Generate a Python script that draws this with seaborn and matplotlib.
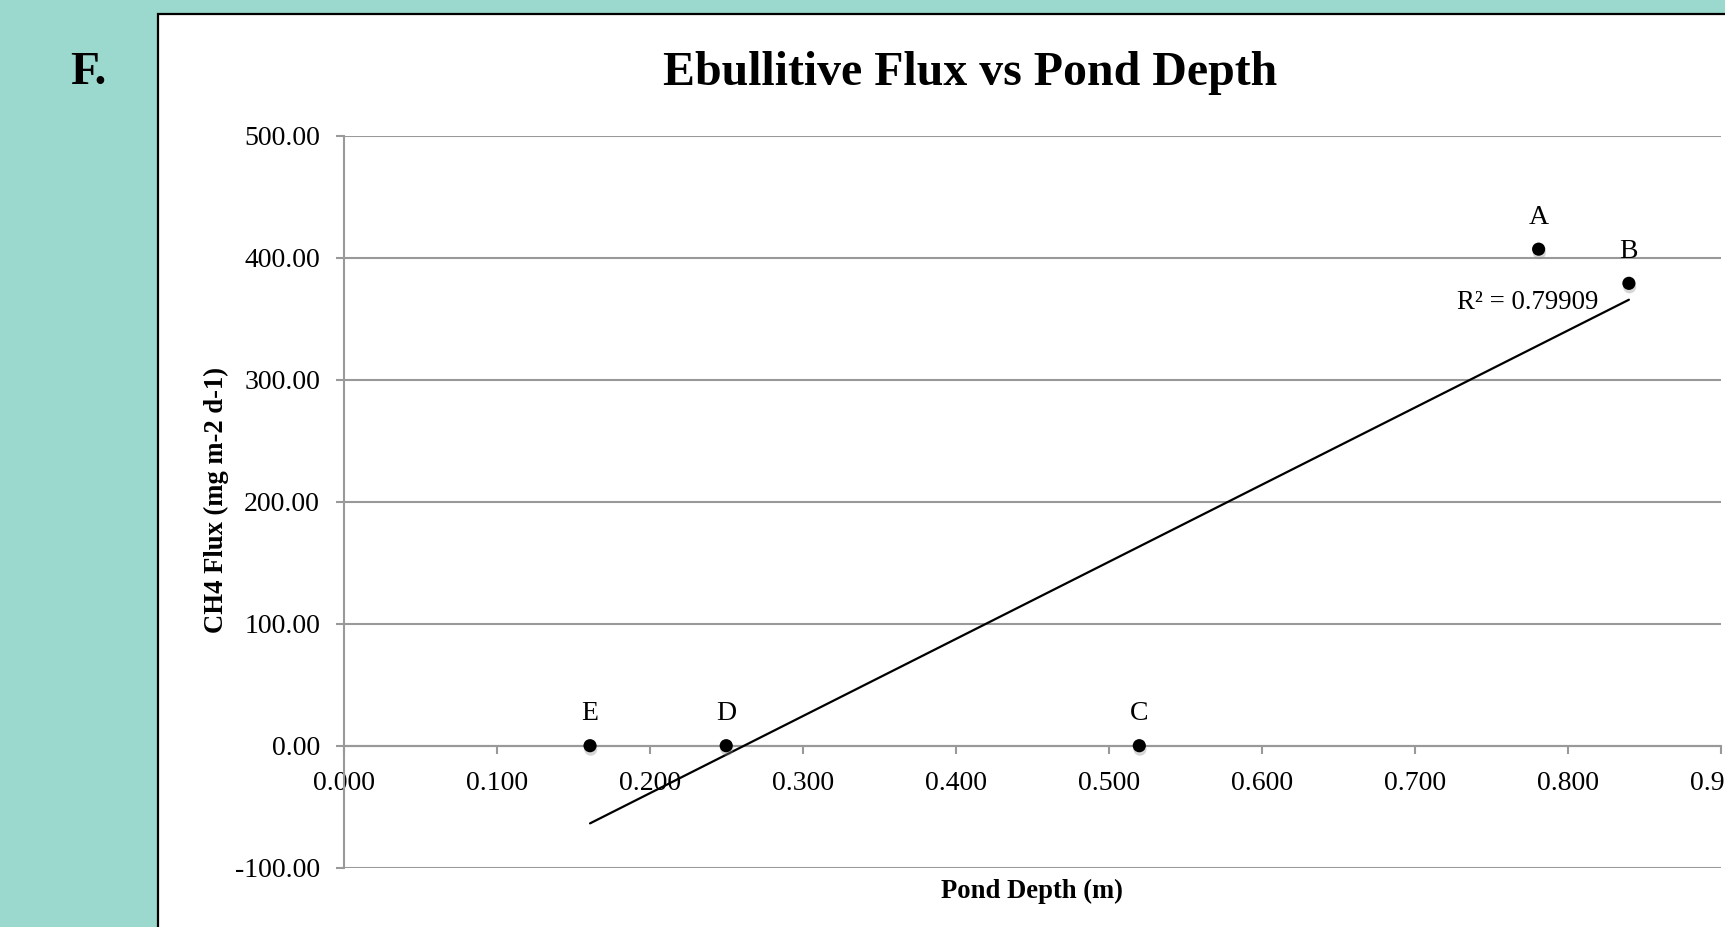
import numpy as np
import pandas as pd
import matplotlib
matplotlib.use("Agg")
import matplotlib.pyplot as plt
import matplotlib.patheffects as pe
from matplotlib.patches import Rectangle
import seaborn as sns

# ---- data ----
sites = ["A", "B", "C", "D", "E"]
depth_m = [0.781, 0.840, 0.520, 0.250, 0.161]
ch4_flux = [407.0, 379.0, 0.0, 0.0, 0.0]
r2_label = "R² = 0.79909"
x_ticks = [0.0, 0.1, 0.2, 0.3, 0.4, 0.5, 0.6, 0.7, 0.8, 0.9]
y_ticks = [-100, 0, 100, 200, 300, 400, 500]
title = "Ebullitive Flux vs Pond Depth"
panel_label = "F."
x_label = "Pond Depth (m)"
y_label = "CH4 Flux (mg m-2 d-1)"

df = pd.DataFrame({"site": sites, "depth": depth_m, "flux": ch4_flux})

sns.set_theme(style="white")
plt.rcParams["font.family"] = ["Liberation Serif", "DejaVu Serif"]

W, H = 1725, 927
fig = plt.figure(figsize=(W / 100, H / 100), dpi=100)
fig.patch.set_facecolor("#9bd8cd")

# white chart box with black border
box = Rectangle((158 / W, 0 - 0.05), 1.2, (1 - 14 / H) + 0.05,
                transform=fig.transFigure, facecolor="white",
                edgecolor="black", linewidth=1.6, zorder=-5)
fig.patches.append(box)

ax_left = 343.7 / W
ax_right = 1720.7 / W
ax_top = 1 - 135.7 / H
ax_bottom = 1 - 867.7 / H
ax = fig.add_axes([ax_left, ax_bottom, ax_right - ax_left, ax_top - ax_bottom])
ax.set_facecolor("none")
ax.set_zorder(2)

grid_c = "#999999"

# trendline (linear fit of the data)
sns.regplot(data=df, x="depth", y="flux", scatter=False, ci=None, ax=ax,
            line_kws=dict(color="black", linewidth=1.6, zorder=3))

# points
sns.scatterplot(data=df, x="depth", y="flux", ax=ax, color="black", s=90,
                edgecolor="none", zorder=4, legend=False)
for coll in ax.collections:
    coll.set_path_effects([pe.SimplePatchShadow(offset=(0.5, -2.5), shadow_rgbFace="0.55", alpha=0.35),
                           pe.Normal()])

for s, x, y in zip(sites, depth_m, ch4_flux):
    ax.annotate(s, (x, y), xytext=(0, 23), textcoords="offset points",
                ha="center", va="center", fontsize=20, color="black", zorder=5)

ax.text(0.774, 363, r2_label, ha="center", va="center", fontsize=19.3, color="black", zorder=5)

ax.set_xlim(0, 0.9)
ax.set_ylim(-100, 500)
ax.set_xticks(x_ticks)
ax.set_yticks(y_ticks)
ax.set_xticklabels([f"{v:.3f}" for v in x_ticks])
ax.set_yticklabels([f"{v:.2f}" for v in y_ticks])

ax.yaxis.grid(True, color=grid_c, linewidth=1.5)
ax.xaxis.grid(False)
ax.set_axisbelow(True)

for side in ["top", "right"]:
    ax.spines[side].set_visible(False)
ax.spines["bottom"].set_position(("data", 0))
ax.spines["bottom"].set_color(grid_c)
ax.spines["bottom"].set_linewidth(1.5)
ax.spines["left"].set_color(grid_c)
ax.spines["left"].set_linewidth(1.5)

ax.tick_params(axis="x", direction="out", length=6, width=1.5, color=grid_c,
               labelsize=20, pad=12, labelcolor="black", bottom=True)
ax.tick_params(axis="y", direction="out", length=6, width=1.5, color=grid_c,
               labelsize=20, pad=11, labelcolor="black", left=True)
ax.set_xlabel("")
ax.set_ylabel("")

fig.text(970 / W, 1 - 73 / H, title, ha="center", va="center",
         fontsize=34.5, fontweight="bold", color="black")
fig.text(88 / W, 1 - 73 / H, panel_label, ha="center", va="center",
         fontsize=34, fontweight="bold", color="black")
fig.text(216 / W, 1 - 500 / H, y_label, ha="center", va="center", rotation=90,
         fontsize=19.2, fontweight="bold", color="black")
fig.text(1032 / W, 1 - 891 / H, x_label, ha="center", va="center",
         fontsize=19.2, fontweight="bold", color="black")

fig.savefig("out.png", dpi=100)
